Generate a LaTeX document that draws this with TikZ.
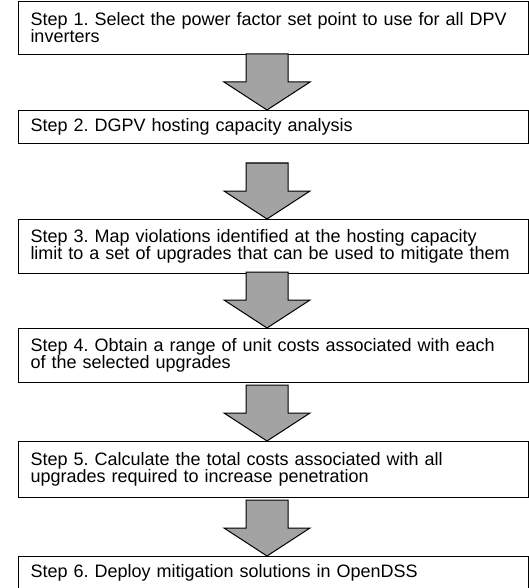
\documentclass[tikz,border=0pt]{standalone}
\usepackage{fontspec}
\setmainfont{Liberation Sans}
\frenchspacing
\definecolor{arrowgray}{RGB}{163,163,163}

\begin{document}
\begin{tikzpicture}[x=1pt,y=-1pt,
  stepbox/.style={draw,line width=1pt,anchor=north west,text width=486pt,align=left,
    inner xsep=12pt,inner ysep=0pt,font=\fontsize{18}{17}\selectfont},
  blockarrow/.style={draw,line width=1pt,fill=arrowgray,line join=miter}
]
\useasboundingbox (0,0) rectangle (529,588);
\clip (0,0) rectangle (529,588);

\node[stepbox,minimum height=53pt] (s1) at (18,1) {Step 1. Select the power factor set point to use for all DPV\\inverters};
\node[stepbox,minimum height=33pt] (s2) at (18,110) {Step 2. DGPV hosting capacity analysis};
\node[stepbox,minimum height=54pt] (s3) at (18,219) {Step 3. Map violations identified at the hosting capacity\\limit to a set of upgrades that can be used to mitigate them};
\node[stepbox,minimum height=54pt] (s4) at (18,328) {Step 4. Obtain a range of unit costs associated with each\\of the selected upgrades};
\node[stepbox,minimum height=56pt] (s5) at (18,441) {Step 5. Calculate the total costs associated with all\\upgrades required to increase penetration};
\node[stepbox,minimum height=33pt] (s6) at (18,556) {Step 6. Deploy mitigation solutions in OpenDSS};

% block arrows, tip on the next box
\coordinate (ax) at (267,0);
\foreach \b in {s2,s3,s4,s5,s6}
  \draw[blockarrow] (ax |- \b.north) -- ++(43,-28) -- ++(-22,0) -- ++(0,-28)
    -- ++(-42,0) -- ++(0,28) -- ++(-22,0) -- cycle;
\end{tikzpicture}
\end{document}
